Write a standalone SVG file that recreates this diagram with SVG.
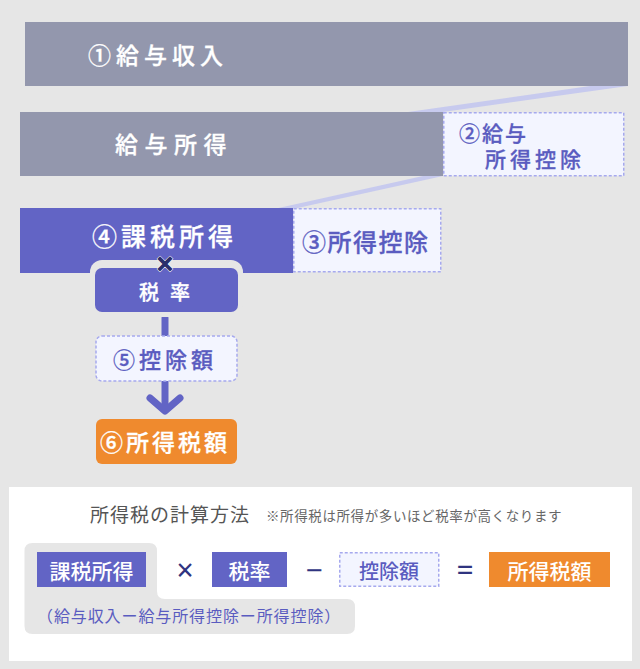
<svg xmlns="http://www.w3.org/2000/svg" width="640" height="669" viewBox="0 0 640 669">
<style>
text{font-family:"Noto Sans CJK JP","Noto Sans",sans-serif}
.gray{fill:#9397ad}
.pur{fill:#6264c5}
.org{fill:#ef8a2e}
.dash{fill:#f3f5ff;stroke:#a6a9ee;stroke-width:1.5;stroke-dasharray:3 2}
.wt{fill:#ffffff;font-weight:500;stroke:#ffffff;stroke-width:0.3}
.pt{fill:#5a5cc0;font-weight:500;stroke:#5a5cc0;stroke-width:0.3}
.band{fill:#c7caee}
.op{fill:#2f3480;font-family:"Noto Sans",sans-serif}
</style>
<rect x="0" y="0" width="640" height="669" fill="#e6e6e6"/>
<g id="connectors">
<polygon class="band" points="590,86 628,86 443,112 408,112"/>
<polygon class="band" points="423,176 443,176 293,209 274,209"/>
<line x1="165" y1="318" x2="165" y2="408" stroke="#6264c5" stroke-width="7" stroke-linecap="round"/>
<polyline points="150,398 165,411 180,398" fill="none" stroke="#6264c5" stroke-width="7" stroke-linecap="round" stroke-linejoin="round"/>
</g>
<g id="n1">
<rect class="gray" x="25" y="22" width="603" height="64"/>
<text class="wt" x="88" y="64" font-size="23" letter-spacing="5">①給与収入</text>
</g>
<g id="n2">
<rect class="gray" x="20" y="112" width="423" height="64"/>
<text class="wt" x="115" y="153" font-size="23" letter-spacing="6.5">給与所得</text>
</g>
<g id="d2">
<rect class="dash" x="443.75" y="112.75" width="180" height="63"/>
<text class="pt" x="459" y="141" font-size="21" letter-spacing="2">②給与</text>
<text class="pt" x="485" y="167" font-size="21" letter-spacing="4">所得控除</text>
</g>
<g id="n4">
<rect class="pur" x="20" y="208" width="273" height="65"/>
<text class="wt" x="92" y="246" font-size="25" letter-spacing="4">④課税所得</text>
</g>
<g id="d3">
<rect class="dash" x="293.75" y="208.75" width="147" height="63"/>
<text class="pt" x="302" y="251" font-size="24" letter-spacing="1.5">③所得控除</text>
</g>
<g id="rate">
<rect x="90" y="260" width="153" height="57" rx="12" fill="#e6e6e6"/>
<rect class="pur" x="95" y="268" width="143" height="44" rx="7"/>
<text class="wt" x="139" y="300" font-size="20" letter-spacing="11">税率</text>
<text x="165" y="275.5" font-size="34" text-anchor="middle" fill="#2b2f6b" stroke="#ffffff" stroke-width="1" paint-order="stroke" font-weight="700" style="font-family:'Noto Sans',sans-serif">×</text>
</g>
<g id="d5">
<rect class="dash" x="96" y="336" width="141" height="45" rx="6"/>
<text class="pt" x="113" y="368" font-size="22" letter-spacing="4">⑤控除額</text>
</g>
<g id="n6">
<rect class="org" x="96" y="419" width="141" height="45" rx="6"/>
<text class="wt" x="100" y="451" font-size="23" letter-spacing="3">⑥所得税額</text>
</g>
<g id="formula">
<rect x="9" y="487" width="623" height="174" fill="#ffffff"/>
<text x="90" y="522" font-size="19" fill="#555555" letter-spacing="1">所得税の計算方法</text>
<text x="266" y="521" font-size="13.5" fill="#666666" letter-spacing="0.6">※所得税は所得が多いほど税率が高くなります</text>
<path d="M32.5,543 H149 Q157,543 157,551 V591 Q157,599 165,599 H347 Q355,599 355,607 V626 Q355,634 347,634 H32.5 Q24.5,634 24.5,626 V551 Q24.5,543 32.5,543 Z" fill="#e6e6e6"/>
<rect class="pur" x="37" y="552" width="109" height="35"/>
<text x="91.5" y="579" font-size="21" text-anchor="middle" fill="#ffffff" font-weight="500">課税所得</text>
<text class="op" x="185" y="581" font-size="30" text-anchor="middle">×</text>
<rect class="pur" x="212" y="552" width="75" height="35"/>
<text x="249.5" y="579" font-size="21" text-anchor="middle" fill="#ffffff" font-weight="500">税率</text>
<text class="op" x="314" y="581" font-size="30" text-anchor="middle">−</text>
<rect class="dash" x="339.75" y="552.75" width="99" height="33.5"/>
<text x="389" y="579" font-size="20" text-anchor="middle" fill="#5a5cc0" font-weight="500">控除額</text>
<text class="op" x="465" y="581" font-size="30" text-anchor="middle">=</text>
<rect class="org" x="489" y="552" width="121" height="35"/>
<text x="549.5" y="579" font-size="21" text-anchor="middle" fill="#ffffff" font-weight="500">所得税額</text>
<text x="37" y="622" font-size="16" fill="#5a5cc0" letter-spacing="0.9">（給与収入ー給与所得控除ー所得控除）</text>
</g>
</svg>
